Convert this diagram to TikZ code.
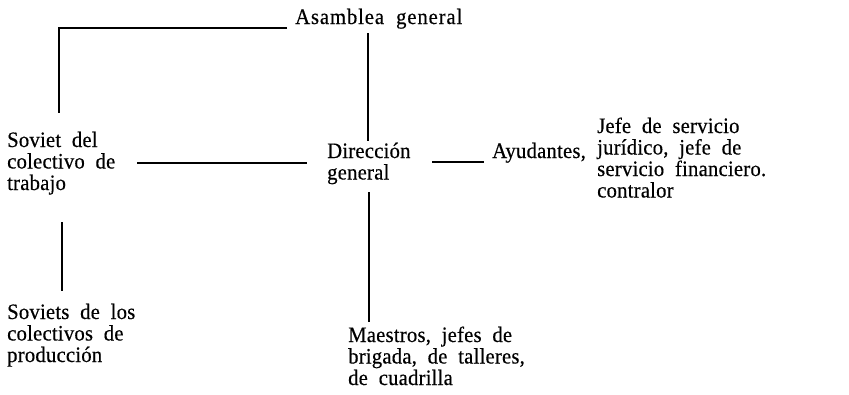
\documentclass[tikz,border=0pt]{standalone}
\usepackage{fontspec}
\setmainfont{Liberation Serif}[LetterSpace=1,WordSpace=2,FakeStretch=0.94,FakeBold=0.4]
\begin{document}
\begin{tikzpicture}[x=1pt,y=-1pt,
  txt/.style={anchor=base west,inner sep=0pt,
    font={\fontsize{22}{21.5}\selectfont\lineskiplimit=-100pt}},
  conn/.style={line width=1.2pt,line cap=butt}]
\useasboundingbox (0,0) rectangle (849,394);
% texts
\node[txt] (asam) at (295,24) {\addfontfeature{LetterSpace=4}Asamblea general};
\node[txt] (sov) at (7,147) {\vtop{\hbox{Soviet del}\hbox{colectivo de}\hbox{trabajo}}};
\node[txt] (dir) at (327,158) {\vtop{\hbox{Dirección}\hbox{general}}};
\node[txt] (ayu) at (492,158) {Ayudantes,};
\node[txt] (jefe) at (597,133) {\vtop{\hbox{Jefe de servicio}\hbox{jurídico, jefe de}\hbox{servicio financiero.}\hbox{contralor}}};
\node[txt] (sovs) at (7,319) {\vtop{\hbox{Soviets de los}\hbox{colectivos de}\hbox{producción}}};
\node[txt] (mae) at (348,342) {\vtop{\hbox{Maestros, jefes de}\hbox{brigada, de talleres,}\hbox{de cuadrilla}}};
% connector end points
\coordinate (asamW) at (287,28);
\coordinate (corner) at (59,28);
\coordinate (sovN) at (59,113);
\coordinate (asamS) at (368,33);
\coordinate (dirN) at (368,141);
\coordinate (sovE) at (137,163);
\coordinate (dirW) at (307,163);
\coordinate (dirE) at (432,162);
\coordinate (ayuW) at (484,162);
\coordinate (dirS) at (369,192);
\coordinate (maeN) at (369,322);
\coordinate (sovS) at (62,222);
\coordinate (sovsN) at (62,291);
% connectors
\draw[conn] (asamW) -- (corner) -- (sovN);
\draw[conn] (asamS) -- (dirN);
\draw[conn] (sovE) -- (dirW);
\draw[conn] (dirE) -- (ayuW);
\draw[conn] (dirS) -- (maeN);
\draw[conn] (sovS) -- (sovsN);
\end{tikzpicture}
\end{document}
